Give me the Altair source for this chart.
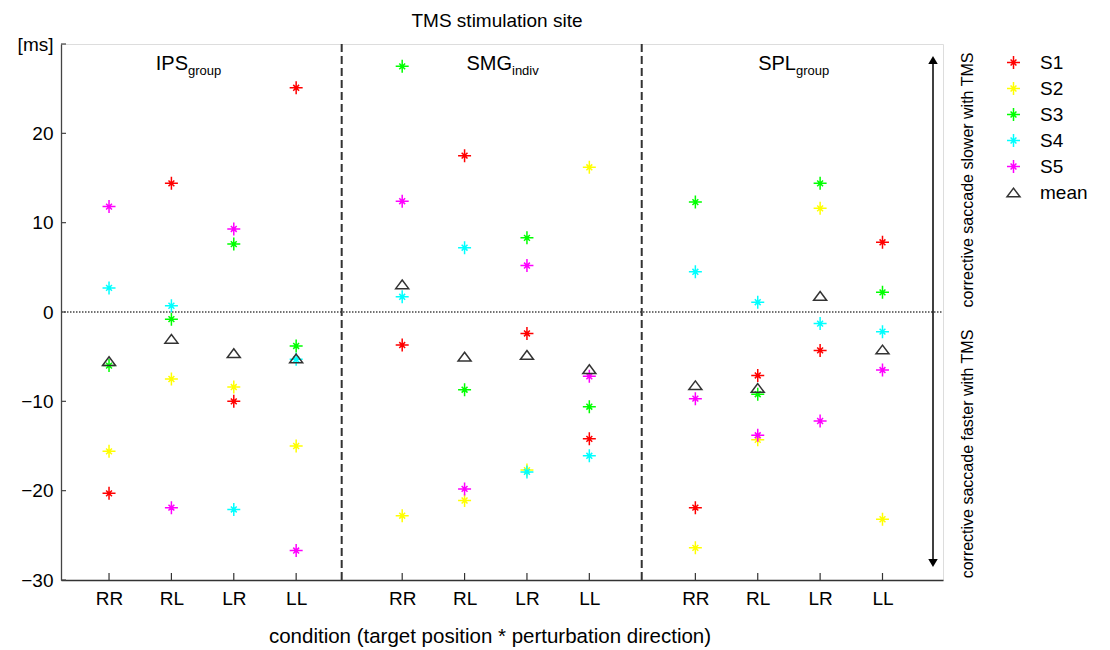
import altair as alt
import pandas as pd

FONT = "Liberation Sans"

# ---------------- data ----------------
sites = ["IPS", "SMG", "SPL"]
site_subs = ["group", "indiv", "group"]
conditions = ["RR", "RL", "LR", "LL"]
series_names = ["S1", "S2", "S3", "S4", "S5", "mean"]

# order: IPS RR,RL,LR,LL | SMG RR,RL,LR,LL | SPL RR,RL,LR,LL
S1 = [-20.3, 14.4, -10.0, 25.1, -3.7, 17.5, -2.4, -14.2, -21.9, -7.1, -4.3, 7.8]
S2 = [-15.6, -7.5, -8.4, -15.0, -22.8, -21.1, -17.7, 16.2, -26.4, -14.3, 11.6, -23.2]
S3 = [-6.0, -0.8, 7.6, -3.8, 27.5, -8.7, 8.3, -10.6, 12.3, -9.2, 14.4, 2.2]
S4 = [2.7, 0.7, -22.1, -5.3, 1.7, 7.2, -17.9, -16.1, 4.5, 1.1, -1.3, -2.2]
S5 = [11.8, -21.9, 9.3, -26.7, 12.4, -19.8, 5.2, -7.2, -9.7, -13.8, -12.2, -6.5]
MEAN = [-5.5, -3.0, -4.6, -5.2, 3.1, -5.0, -4.8, -6.4, -8.2, -8.5, 1.8, -4.2]

y_ticks = [-30, -20, -10, 0, 10, 20, 30]
zero_ref = [0]

# ---------------- layout ----------------
W, H = 882, 536
COND_STEP = 10
GROUP_STEP = 47
X_DOMAIN = [-7.7, 133.7]
SEPARATORS = [37.3, 85.4]


def xpos(g, c):
    return g * GROUP_STEP + c * COND_STEP


rows = []
for name, vals in zip(series_names, [S1, S2, S3, S4, S5, MEAN]):
    for i, v in enumerate(vals):
        g, c = divmod(i, 4)
        rows.append({"series": name, "site": sites[g], "condition": conditions[c],
                     "x": xpos(g, c), "value": v})
df = pd.DataFrame(rows)

tick_x = [xpos(g, c) for g in range(3) for c in range(4)]
tick_lab = [conditions[c] for g in range(3) for c in range(4)]
label_expr = "[" + ",".join("'%s'" % t for t in tick_lab) + "][indexof([" + \
    ",".join(str(v) for v in tick_x) + "], datum.value)]"

xscale = alt.Scale(domain=X_DOMAIN, nice=False, zero=False)
yscale = alt.Scale(domain=[-30, 30], nice=False, zero=False)

STAR = "M-1,0L1,0M0,-1L0,1M-0.45,-0.45L0.45,0.45M-0.45,0.45L0.45,-0.45"
TRI = "M0,-0.67L1,0.67L-1,0.67Z"
colors = ["#ff0000", "#ffff00", "#00ff00", "#00ffff", "#ff00ff", "#333333"]

xaxis = alt.Axis(values=tick_x, labelExpr=label_expr, tickSize=0, grid=False,
                 title=None, labelFontSize=19, labelFont=FONT, labelColor="black",
                 labelPadding=9, domainColor="#333333", domainWidth=1.3,
                 labelFlush=False, labelOverlap=False)
yaxis = alt.Axis(values=y_ticks, labelExpr="datum.value == 30 ? '[ms]' : datum.label",
                 tickSize=0, grid=False, title=None, labelFontSize=19,
                 labelFont=FONT, labelColor="black", labelPadding=8,
                 domainColor="#444444", domainWidth=1.3, labelFlush=False,
                 labelOverlap=False)

base_axes = alt.Chart(df).mark_point(opacity=0).encode(
    x=alt.X("x:Q", scale=xscale, axis=xaxis),
    y=alt.Y("value:Q", scale=yscale, axis=yaxis),
)

zero_line = alt.Chart(pd.DataFrame({"value": zero_ref})).mark_rule(
    color="#444444", strokeWidth=1.4, strokeDash=[1.5, 1.5]
).encode(y=alt.Y("value:Q", scale=yscale), x=alt.value(0), x2=alt.value(W))

sep_lines = alt.Chart(pd.DataFrame({"x": SEPARATORS})).mark_rule(
    color="#333333", strokeWidth=2, strokeDash=[8, 4]
).encode(x=alt.X("x:Q", scale=xscale), y=alt.value(0), y2=alt.value(H))

xticks_in = alt.Chart(pd.DataFrame({"x": tick_x})).mark_rule(
    color="#333333", strokeWidth=1.2
).encode(x=alt.X("x:Q", scale=xscale), y=alt.value(H), y2=alt.value(H - 7))

yticks_in = alt.Chart(pd.DataFrame({"value": y_ticks})).mark_rule(
    color="#444444", strokeWidth=1.2
).encode(y=alt.Y("value:Q", scale=yscale), x=alt.value(0), x2=alt.value(5))

points = alt.Chart(df).mark_point(filled=False, strokeWidth=1.5, opacity=1).encode(
    x=alt.X("x:Q", scale=xscale),
    y=alt.Y("value:Q", scale=yscale),
    color=alt.Color("series:N", scale=alt.Scale(domain=series_names, range=colors),
                    legend=alt.Legend(orient="none", legendX=943, legendY=9,
                                      title=None, labelFontSize=19, labelFont=FONT,
                                      labelColor="black", rowPadding=6,
                                      labelOffset=17, symbolStrokeWidth=1.5,
                                      padding=0)),
    shape=alt.Shape("series:N", scale=alt.Scale(domain=series_names,
                                                range=[STAR] * 5 + [TRI])),
    size=alt.Size("series:N", scale=alt.Scale(domain=series_names,
                                              range=[169] * 5 + [330])),
)


def text_layer(txt, x, y, size, align="center", angle=0, baseline="alphabetic"):
    props = dict(fontSize=size, font=FONT, color="black", align=align,
                 baseline=baseline)
    if angle:
        props["angle"] = angle
    return alt.Chart(pd.DataFrame({"t": [txt]})).mark_text(**props).encode(
        text="t:N", x=alt.value(x), y=alt.value(y))


title_layer = text_layer("TMS stimulation site", 436, -17, 19)
xtitle_layer = text_layer("condition (target position * perturbation direction)",
                          429, 599, 20.5)

panel_split = [127, 451, 735]
panel_layers = []
for s, sub, px in zip(sites, site_subs, panel_split):
    panel_layers.append(text_layer(s, px, 26, 20, align="right"))
    panel_layers.append(text_layer(sub, px, 31, 13, align="left"))

ARROW_X = 872
arrow_line = alt.Chart(pd.DataFrame({"a": [0]})).mark_rule(
    color="black", strokeWidth=1.5
).encode(x=alt.value(ARROW_X), y=alt.value(16), y2=alt.value(519))
arrow_up = alt.Chart(pd.DataFrame({"a": [0]})).mark_point(
    shape="triangle-up", filled=True, size=90, color="black", opacity=1
).encode(x=alt.value(ARROW_X), y=alt.value(16))
arrow_down = alt.Chart(pd.DataFrame({"a": [0]})).mark_point(
    shape="triangle-down", filled=True, size=90, color="black", opacity=1
).encode(x=alt.value(ARROW_X), y=alt.value(519))

slow_txt = text_layer("corrective saccade slower with TMS", 907, 136, 16,
                      angle=270, baseline="middle")
fast_txt = text_layer("corrective saccade faster with TMS", 907, 410, 16,
                      angle=270, baseline="middle")

chart = alt.layer(
    base_axes, zero_line, sep_lines, xticks_in, yticks_in, points,
    title_layer, xtitle_layer, *panel_layers,
    arrow_line, arrow_up, arrow_down, slow_txt, fast_txt,
).properties(
    width=W, height=H,
    autosize=alt.AutoSizeParams(type="none"),
    padding={"left": 61, "top": 44, "right": 167, "bottom": 70},
).configure_view(stroke=None).configure(background="white")

chart.save("out.html", embed_options={"renderer": "svg", "actions": False})
